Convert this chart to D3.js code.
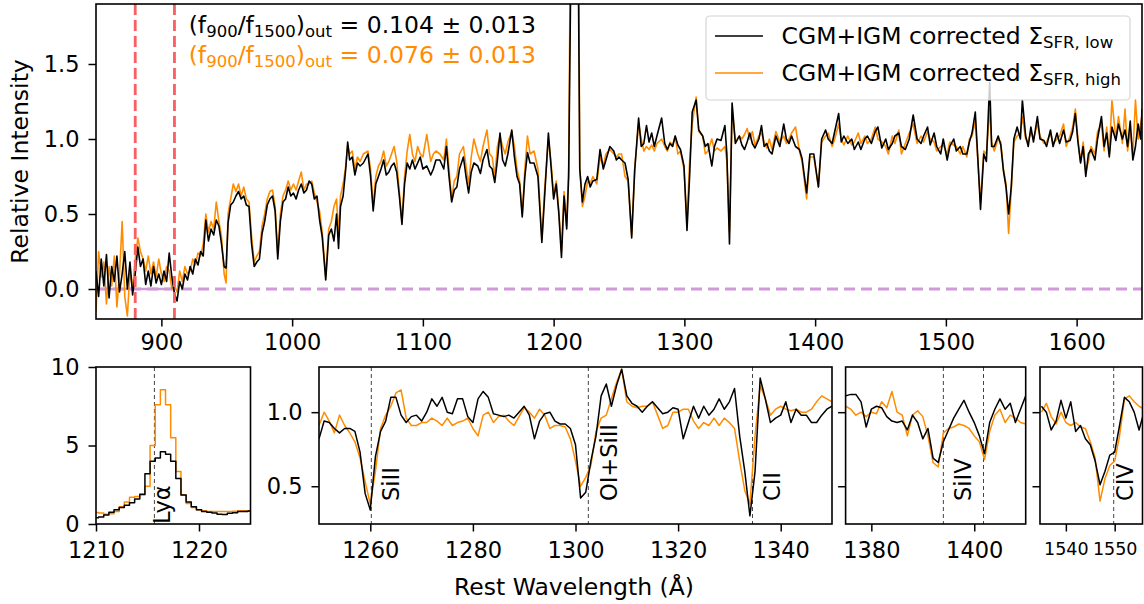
<!DOCTYPE html>
<html><head><meta charset="utf-8">
<script src="https://cdn.jsdelivr.net/npm/d3@7"></script>
<style>body{margin:0;background:#fff}svg{display:block}text{white-space:pre}</style>
</head><body>
<svg id="c" width="1144" height="604"></svg>
<script>
// ---------------- DATA ----------------
const mainWave = [
 850,852,854,856,858,860,862,864,866,868,
 870,872,874,876,878,880,882,884,886,888,
 890,892,894,896,898,900,902,904,906,908,
 910,912,914,916,918,920,
 922,924,926,928,930,932,934,936,938,940,
 942,944,946,948,949.5,951,953,955,957,959,
 961,963,965,967,969,971,973,975,977,979,
 981,983,985,987,989,991,993,995,997,999,
 1001,1003,1005,1007,1009,1011,1013,1015,1017,1019,
 1021,1023,1025.7,1028,1030,1032,1034,1035.5,1037,1039,
 1041,1042.5,1044,1046,1048,1050,
 1052,1054.5,1058,1060,1062,1064,1066,1068,1070,1072,
 1074,1076,1078,1080,1082,1084,1086,1088,1090,1092,
 1094,1096,1098,1100,1103,1106,1108,1110,1113,1116,
 1118,1120,1122,1124,1126,1128,1131,1133,1135,1137,
 1139,1142,1144,1146,1149,1151,1153,1155,1157,1159,
 1161,1163,1165,1168,1170,1172,1174,1176,1178,1180,
 1182,1185,1188,1191,1193,1196,1198,1200,1202,1204,
 1206,1208,1210,1211.5,1213,1214.5,1216,1218,1219,1220,
 1222,1224,1226,1228,1230,1233,1235.5,1238,1240,1243,
 1246,1248,1250,
 1252,1254.6,1257,1259.7,1262,1265,1267,1269,1271,1273,
 1275,1277,1279,1282.6,1285,1287,1289,1291,1293,1295,
 1297,1299.7,1302,1304,1306,1309,1311,1314,1316,1318,
 1321,1323,1325,1328,1331,1332.5,1334.5,1336.5,1339,1342,
 1344,1346,1348,1350,1352,1354,1357,1359,1361,1363,
 1365,1367,1370,1373,1376,1378,1380,1382,1385,1388,
 1390,1393.5,1396,1399,1402.5,1405,1408,1410,1413,1415,
 1418,1420,1422,1425,1428,1430,1433,1435,1438,1440,
 1443,1446,1448,
 1451,1454,1456,1459,1461,1464,1466,1469,1472,1475,
 1478,1481,1483,1486,1488,1491,1493,1496,1498,1501,
 1503,1506,1508,1511,1513,1516,1518,1520,1522.5,1524.5,
 1526.5,1529,1531,1533.5,1535,1537,1540,1542,1544,1546,
 1548,1550,1552,1554.5,1557,1558.5,1561,1563,1565,1567,
 1570,1572,1575,1577,1580,1582,1585,1587,1590,1592,
 1595,1597,1599,1601,1603,1605,1607,1609,1611,1614,
 1616,1619,1621,1623,1625,1627,1630,1632,1635,1637,
 1639,1641,1643,1645,1647,1649,1650
];
const mainLow = [
 0.12,-0.05,0.2,0.02,0.23,-0.06,0.15,0.05,0.22,-0.02,
 0.1,0.25,0.0,0.18,-0.04,0.1,0.28,0.15,0.2,0.03,
 0.12,0.02,0.15,0.04,0.1,0.03,0.12,0.05,0.24,0.08,
 -0.03,-0.08,0.05,0.0,0.1,0.06,
 0.15,0.1,0.2,0.16,0.25,0.22,0.46,0.32,0.4,0.36,
 0.46,0.42,0.3,0.15,0.14,0.44,0.56,0.58,0.62,0.65,
 0.6,0.62,0.56,0.55,0.3,0.15,0.18,0.2,0.37,0.45,
 0.56,0.6,0.62,0.52,0.2,0.45,0.58,0.6,0.68,0.62,
 0.64,0.6,0.66,0.7,0.64,0.66,0.72,0.7,0.6,0.62,
 0.46,0.35,0.06,0.36,0.4,0.32,0.5,0.27,0.55,0.62,
 0.8,0.98,0.86,0.88,0.76,0.84,
 0.82,0.84,0.9,0.75,0.52,0.7,0.75,0.8,0.86,0.76,
 0.78,0.82,0.84,0.78,0.62,0.43,0.7,0.84,0.8,0.86,
 0.8,0.84,0.88,0.8,0.82,0.76,0.8,0.86,0.86,0.8,
 0.95,0.75,0.58,0.66,0.68,0.8,0.88,0.75,0.64,0.78,
 0.84,0.82,0.77,0.86,0.93,0.82,0.8,0.71,0.86,1.04,
 0.86,0.82,0.9,1.06,0.88,0.75,0.7,0.48,0.75,0.91,
 0.84,0.84,0.75,0.31,0.6,1.04,0.82,0.6,0.7,0.5,
 0.21,0.62,0.4,0.75,2.0,3.5,4.5,3.5,2.0,0.8,
 0.58,0.7,0.75,0.68,0.72,0.73,0.93,0.8,0.86,0.95,
 0.92,0.86,0.88,
 0.86,0.84,0.73,0.34,0.79,1.14,0.95,0.97,1.09,0.98,
 1.04,0.95,1.02,1.14,0.97,0.93,0.97,0.95,1.02,0.96,
 0.93,0.82,0.39,0.75,1.18,1.26,1.06,1.02,0.95,0.97,
 0.82,0.95,1.0,0.99,1.09,0.9,0.3,1.24,0.97,1.02,
 0.96,0.93,0.98,1.04,0.97,0.94,1.0,1.09,0.95,0.97,
 0.92,0.9,1.02,0.95,1.1,1.0,0.97,1.02,0.95,0.93,
 0.87,0.64,0.9,0.9,0.68,1.0,1.06,1.0,0.97,1.05,
 1.17,0.98,1.02,0.97,1.0,0.93,0.98,0.93,1.0,1.02,
 0.97,1.05,1.08,
 0.94,1.0,0.93,0.97,1.02,1.04,0.95,0.93,1.0,1.16,
 1.0,0.97,1.02,1.08,0.96,1.04,0.95,0.9,1.0,0.86,
 0.95,1.0,0.92,0.95,0.9,0.9,0.98,1.04,1.18,0.86,
 0.53,0.9,0.85,1.38,0.95,0.95,1.02,0.96,0.79,0.68,
 0.5,0.68,1.0,1.08,1.0,1.26,1.02,0.95,1.08,0.98,
 1.15,1.0,0.99,0.95,1.06,0.95,1.04,0.97,1.06,0.98,
 0.99,1.05,1.17,0.98,0.84,0.95,0.75,0.9,0.93,0.86,
 1.0,1.15,0.95,1.04,0.88,1.08,0.99,1.1,1.0,1.06,
 0.95,1.12,0.86,0.95,1.1,1.0,1.2
];
const mainHigh = [
 -0.15,0.25,0.08,0.18,-0.1,0.15,0.02,0.22,-0.12,0.1,
 0.45,-0.05,-0.18,0.12,0.0,0.2,0.34,0.25,0.2,0.12,
 0.22,0.1,0.18,0.08,0.2,0.1,0.05,0.15,0.12,0.0,
 0.02,-0.02,0.12,0.05,0.15,0.1,
 0.12,0.2,0.16,0.24,0.22,0.3,0.5,0.38,0.45,0.4,
 0.58,0.45,0.35,0.1,0.04,0.5,0.6,0.7,0.65,0.7,
 0.62,0.68,0.6,0.58,0.35,0.18,0.22,0.25,0.42,0.5,
 0.6,0.65,0.66,0.55,0.24,0.5,0.62,0.66,0.72,0.66,
 0.7,0.66,0.72,0.78,0.66,0.7,0.7,0.72,0.64,0.58,
 0.52,0.38,0.08,0.4,0.45,0.55,0.6,0.35,0.62,0.7,
 0.82,0.96,0.9,0.92,0.8,0.88,
 0.85,0.9,0.92,0.8,0.55,0.75,0.82,0.85,0.92,0.82,
 0.85,0.9,0.95,0.85,0.65,0.45,0.75,0.92,1.03,0.9,
 0.85,0.95,0.9,0.88,1.03,0.85,0.9,0.92,0.9,0.86,
 1.0,0.8,0.6,0.72,0.75,0.9,0.95,0.82,0.7,0.88,
 1.0,0.9,0.85,0.95,1.06,0.9,0.88,0.75,0.95,1.02,
 0.95,0.9,0.98,1.05,0.95,0.8,0.72,0.5,0.8,1.02,
 0.9,0.92,0.8,0.33,0.65,1.0,0.85,0.62,0.72,0.52,
 0.25,0.65,0.42,0.8,2.5,4.5,8.0,4.5,2.5,0.8,
 0.55,0.62,0.72,0.7,0.75,0.7,0.88,0.82,0.9,0.93,
 0.9,0.88,0.9,
 0.9,0.75,0.72,0.36,0.8,1.1,1.0,0.92,0.95,0.93,
 0.96,0.92,0.97,1.0,0.95,0.92,0.98,0.96,1.02,0.9,
 0.92,0.8,0.45,0.85,1.1,1.28,1.05,1.02,0.9,0.92,
 1.0,0.92,0.94,0.92,0.95,0.85,0.38,1.2,0.98,1.02,
 1.0,1.03,1.07,1.0,1.05,0.96,1.02,1.04,0.98,0.94,
 1.0,0.93,1.05,0.98,1.02,0.97,1.0,1.04,1.08,0.92,
 0.85,0.6,0.88,0.88,0.68,0.98,1.02,1.04,0.95,1.0,
 1.1,1.0,0.96,1.02,0.96,0.98,1.04,0.97,1.02,0.97,
 1.0,1.08,1.0,
 0.98,0.95,0.9,1.02,0.97,1.06,0.9,0.97,1.04,1.1,
 0.97,1.02,0.98,1.05,1.0,0.98,0.92,0.95,0.96,0.9,
 0.98,0.96,0.95,0.9,0.95,0.88,1.0,1.02,1.12,0.85,
 0.58,0.92,0.9,1.2,0.98,0.92,1.0,0.98,0.8,0.7,
 0.37,0.66,0.98,1.02,1.04,1.15,1.0,0.98,1.05,1.0,
 1.1,1.02,0.97,0.98,1.04,0.97,1.0,1.02,1.1,0.95,
 1.02,1.08,1.2,1.0,0.85,0.98,0.78,0.85,0.95,0.9,
 1.05,1.1,0.92,1.08,0.9,1.26,1.0,1.15,0.97,1.2,
 0.92,1.05,0.9,1.26,1.0,1.1,1.15
];

// Lya panel (0.5 A sampling from 1210 to 1225)
const lyaWave = d3.range(1210, 1225.01, 0.5);
const lyaLow = [0.4,0.45,0.57,0.75,0.9,1.05,1.2,1.35,1.6,1.9,3.2,4.0,4.2,4.6,4.45,4.0,2.9,1.85,1.4,1.1,0.9,0.8,0.75,0.7,0.62,0.6,0.68,0.72,0.79,0.8,0.83];
const lyaHigh = [0.74,0.7,0.62,0.65,0.8,1.1,1.4,1.7,1.75,1.85,2.4,5.0,7.6,8.55,7.6,5.5,3.35,1.85,1.3,1.05,0.9,0.85,0.8,0.8,0.8,0.8,0.8,0.82,0.85,0.85,0.85];

// SiII / OI / CII panel (1 A sampling 1250-1350)
const p2Wave = d3.range(1250, 1351, 1);
const p2Low = [
 0.82,0.94,0.93,0.89,0.86,0.89,0.89,0.87,0.73,0.45,
 0.34,0.7,0.87,0.94,1.1,1.1,0.98,0.93,0.97,0.98,
 0.94,1.0,1.09,1.04,1.1,1.0,0.99,1.09,1.09,0.97,
 0.93,1.09,1.14,1.1,0.99,0.98,0.97,0.98,0.96,1.0,
 1.04,0.98,0.82,0.94,0.99,1.0,0.94,0.92,0.92,0.89,
 0.78,0.42,0.46,0.67,0.84,1.11,1.19,1.04,1.18,1.29,
 1.11,1.06,1.04,1.0,1.04,1.07,1.03,0.99,1.0,1.03,
 1.02,0.82,0.93,1.04,0.96,1.04,0.98,1.02,1.09,1.02,
 1.07,1.16,0.84,0.6,0.3,0.6,1.23,1.09,0.93,0.96,
 0.98,1.07,0.93,1.02,0.98,0.98,0.93,0.93,0.98,1.02,
 1.04
];
const p2High = [
 0.91,1.0,0.94,0.86,0.98,0.91,0.86,0.8,0.69,0.53,
 0.38,0.6,0.89,0.98,1.04,1.13,1.15,0.96,0.91,0.91,
 0.93,0.93,0.96,0.94,0.91,0.96,0.91,0.93,0.94,0.96,
 0.89,0.84,0.98,1.0,0.93,0.97,0.98,0.94,0.91,0.97,
 1.03,1.0,0.96,1.02,0.98,0.89,0.91,0.91,0.9,0.82,
 0.67,0.5,0.56,0.64,0.87,0.96,0.98,1.09,1.2,1.29,
 1.07,1.04,1.03,1.04,1.04,1.07,0.98,0.89,0.91,1.0,
 1.0,1.02,1.02,0.94,0.89,0.93,0.91,0.96,0.91,0.96,
 0.93,0.89,0.67,0.47,0.38,0.84,1.18,1.09,0.98,1.02,
 1.04,1.02,1.01,1.02,1.0,1.0,1.02,1.07,1.11,1.09,
 1.07
];

// SiIV panel (1375-1410)
const p3Wave = d3.range(1375, 1411, 1);
const p3Low = [1.11,1.12,1.12,1.07,0.9,1.02,1.04,1.03,0.97,0.94,0.93,0.94,0.88,0.98,0.93,0.82,0.89,0.69,0.66,0.8,0.88,0.96,1.02,1.08,1.0,0.93,0.84,0.72,0.93,1.02,1.09,1.02,1.06,0.93,1.02,1.11];
const p3High = [1.04,1.02,0.98,1.0,0.97,1.0,0.99,1.07,1.03,1.14,1.0,0.98,0.84,0.98,1.01,0.97,0.84,0.66,0.63,0.86,0.89,0.9,0.92,0.91,0.89,0.84,0.8,0.68,0.87,0.98,1.02,0.93,0.98,0.96,0.93,0.92];

// CIV panel (1535-1556)
const p4Wave = d3.range(1535, 1557, 1);
const p4Low = [1.04,1.0,0.88,0.94,1.08,0.96,1.07,0.87,0.91,0.82,0.78,0.67,0.51,0.6,0.71,0.73,0.91,1.1,1.07,1.0,0.88,1.0];
const p4High = [1.0,1.06,0.97,0.92,1.0,0.93,0.91,0.93,0.9,0.89,0.8,0.69,0.4,0.55,0.64,0.67,0.84,1.09,1.11,1.07,1.04,1.02];

// tick values / labels
const mainXTicks = [900,1000,1100,1200,1300,1400,1500,1600];
const mainYTicks = [0.0,0.5,1.0,1.5];
const lyaXTicks = [1210,1220];
const lyaYTicks = [0,5,10];
const p2XTicks = [1260,1280,1300,1320,1340];
const zoomYTicks = [0.5,1.0];
const p3XTicks = [1380,1400];
const p4XTicks = [1540,1550];
const lycWindow = [880,910];
const seriesNames = ['CGM+IGM corrected Σ','CGM+IGM corrected Σ'];
const seriesSubs = ['SFR, low','SFR, high'];
const ratioValues = ['0.104 ± 0.013','0.076 ± 0.013'];

// ---------------- DRAWING ----------------
const FONT = '"DejaVu Sans", sans-serif';
const BLACK = '#000000', ORANGE = '#ff8c00';
const BIG = 23.5, SUB = 16.5;
const svg = d3.select('#c').attr('font-family', FONT);
svg.append('rect').attr('width',1144).attr('height',604).attr('fill','#fff');
const defs = svg.append('defs');

function zip(w, v){ return w.map((d,i)=>[d, v[i]]).filter(d=>d[1]!==undefined); }

function panel(o){
  const x = d3.scaleLinear().domain(o.xd).range([o.l, o.r]);
  const y = d3.scaleLinear().domain(o.yd).range([o.b, o.t]);
  defs.append('clipPath').attr('id','cp'+o.name).append('rect')
    .attr('x',o.l).attr('y',o.t).attr('width',o.r-o.l).attr('height',o.b-o.t);
  const g = svg.append('g');
  const plot = g.append('g').attr('clip-path','url(#cp'+o.name+')');
  const xa = g.append('g').attr('transform','translate(0,'+o.b+')')
    .call(d3.axisBottom(x).tickValues(o.xt).tickFormat(d3.format('d')).tickSize(7.5).tickPadding(o.xpad).tickSizeOuter(0));
  const ya = g.append('g').attr('transform','translate('+o.l+',0)')
    .call(d3.axisLeft(y).tickValues(o.yt).tickFormat(o.yf).tickSize(7.5).tickPadding(9).tickSizeOuter(0));
  [xa,ya].forEach((a,i)=>{
    a.attr('font-family',FONT).attr('font-size', i===0 ? (o.xfs||22.5) : 22.5);
    a.select('.domain').remove();
    a.selectAll('.tick line').attr('stroke','#000').attr('stroke-width',1.5);
    a.selectAll('.tick text').attr('fill','#000');
  });
  return {x,y,g,plot,o};
}
function frame(p){
  const o=p.o;
  p.g.append('rect').attr('x',o.l).attr('y',o.t).attr('width',o.r-o.l).attr('height',o.b-o.t)
    .attr('fill','none').attr('stroke','#000').attr('stroke-width',1.6);
}
function drawLine(p, w, v, color, width, curve){
  const line = d3.line().x(d=>p.x(d[0])).y(d=>p.y(d[1])).curve(curve||d3.curveLinear);
  p.plot.append('path').datum(zip(w,v)).attr('d',line).attr('fill','none')
    .attr('stroke',color).attr('stroke-width',width).attr('stroke-linejoin','round');
}
function vdash(p, lam, color, width, dash){
  p.plot.append('line').attr('x1',p.x(lam)).attr('x2',p.x(lam)).attr('y1',p.o.t).attr('y2',p.o.b)
    .attr('stroke',color).attr('stroke-width',width).attr('stroke-dasharray',dash);
}
function vlabel(p, lam, dx, yb, txt){
  const xx = p.x(lam)+dx;
  p.g.append('text').attr('transform','translate('+xx+','+yb+') rotate(-90)')
    .attr('font-size',22.5).attr('fill','#000').text(txt);
}

// Main panel
const M = panel({name:'m', l:96, r:1142, t:4, b:319, xd:[850,1650], yd:[-0.2,1.9],
  xt:mainXTicks, yt:mainYTicks, yf:d3.format('.1f'), xpad:7.5});
// zero line
M.plot.append('line').attr('x1',M.x(850)).attr('x2',M.x(1650)).attr('y1',M.y(0)).attr('y2',M.y(0))
  .attr('stroke','#d09ad8').attr('stroke-width',3).attr('stroke-dasharray','11,6');
M.plot.append('line').attr('x1',M.x(850)).attr('x2',M.x(lycWindow[1])).attr('y1',M.y(0)).attr('y2',M.y(0))
  .attr('stroke','#cf9ad6').attr('stroke-width',2.5);
drawLine(M, mainWave, mainHigh, ORANGE, 1.6);
drawLine(M, mainWave, mainLow, BLACK, 1.6);
lycWindow.forEach(l=>vdash(M, l, '#f85f61', 2.8, '11,5'));

// ratio annotations
ratioValues.forEach((val,i)=>{
  const col = i===0 ? BLACK : ORANGE;
  const t = svg.append('text').attr('x',188.7).attr('y', i===0 ? 33.3 : 62.7).attr('fill',col).attr('font-size',BIG);
  t.append('tspan').text('(f');
  t.append('tspan').attr('font-size',SUB).attr('dy',4).text('900');
  t.append('tspan').attr('dy',-4).text('/f');
  t.append('tspan').attr('font-size',SUB).attr('dy',4).text('1500');
  t.append('tspan').attr('dy',-4).text(')');
  t.append('tspan').attr('font-size',SUB).attr('dy',4).text('out');
  t.append('tspan').attr('dy',-4).text(' = '+val);
});

// legend
const lg = svg.append('g');
lg.append('rect').attr('x',706).attr('y',16).attr('width',424).attr('height',84).attr('rx',4)
  .attr('fill','#fff').attr('fill-opacity',0.8).attr('stroke','#d4d4d4').attr('stroke-width',1.2);
seriesNames.forEach((nm,i)=>{
  const yy = i===0 ? 36 : 73;
  lg.append('line').attr('x1',715).attr('x2',763).attr('y1',yy).attr('y2',yy)
    .attr('stroke', i===0?BLACK:ORANGE).attr('stroke-width',1.6);
  const t = lg.append('text').attr('x',781.6).attr('y', yy+7.5).attr('font-size',BIG).attr('fill','#000');
  t.append('tspan').text(nm);
  t.append('tspan').attr('font-size',SUB).attr('dy',4).text(seriesSubs[i]);
});
frame(M);

// Y label main
svg.append('text').attr('transform','translate(28,161.5) rotate(-90)').attr('text-anchor','middle')
  .attr('font-size',BIG).attr('fill','#000').text('Relative Intensity');

// Lya panel
const P1 = panel({name:'p1', l:96, r:250.5, t:367, b:524, xd:[1210,1225], yd:[0,10],
  xt:lyaXTicks, yt:lyaYTicks, yf:d3.format('d'), xpad:10.5});
vdash(P1, 1215.67, '#444', 1, '4,3');
drawLine(P1, lyaWave, lyaHigh, ORANGE, 1.5, d3.curveStep);
drawLine(P1, lyaWave, lyaLow, BLACK, 1.5, d3.curveStep);
vlabel(P1, 1215.67, 15.5, 524, 'Lyα');
frame(P1);

// SiII/OI/CII panel
const P2 = panel({name:'p2', l:319, r:832, t:367, b:524, xd:[1250,1350], yd:[0.245,1.305],
  xt:p2XTicks, yt:zoomYTicks, yf:d3.format('.1f'), xpad:10.5});
[1260.2,1302.5,1334.5].forEach(l=>vdash(P2, l, '#444', 1, '4,3'));
drawLine(P2, p2Wave, p2High, ORANGE, 1.5);
drawLine(P2, p2Wave, p2Low, BLACK, 1.5);
vlabel(P2, 1260.2, 28, 501, 'SiII');
vlabel(P2, 1302.5, 28.5, 501, 'OI+SiII');
vlabel(P2, 1334.5, 28, 501, 'CII');
frame(P2);

// SiIV panel
const P3 = panel({name:'p3', l:845.6, r:1025.7, t:367, b:524, xd:[1375,1410], yd:[0.245,1.305],
  xt:p3XTicks, yt:zoomYTicks, yf:()=>'', xpad:10.5});
[1394.0,1401.8].forEach(l=>vdash(P3, l, '#444', 1, '4,3'));
drawLine(P3, p3Wave, p3High, ORANGE, 1.5);
drawLine(P3, p3Wave, p3Low, BLACK, 1.5);
vlabel(P3, 1394.0, 28, 501, 'SiIV');
frame(P3);

// CIV panel
const P4 = panel({name:'p4', l:1040, r:1142.5, t:367, b:524, xd:[1534.7,1555.7], yd:[0.245,1.305],
  xt:p4XTicks, yt:zoomYTicks, yf:()=>'', xpad:11, xfs:17.5});
vdash(P4, 1549.8, '#444', 1, '4,3');
drawLine(P4, p4Wave, p4High, ORANGE, 1.5);
drawLine(P4, p4Wave, p4Low, BLACK, 1.5);
vlabel(P4, 1549.8, 19.5, 501, 'CIV');
frame(P4);

// X label
svg.append('text').attr('x',574).attr('y',595).attr('text-anchor','middle')
  .attr('font-size',BIG).attr('fill','#000').text('Rest Wavelength (Å)');
</script>
</body></html>
